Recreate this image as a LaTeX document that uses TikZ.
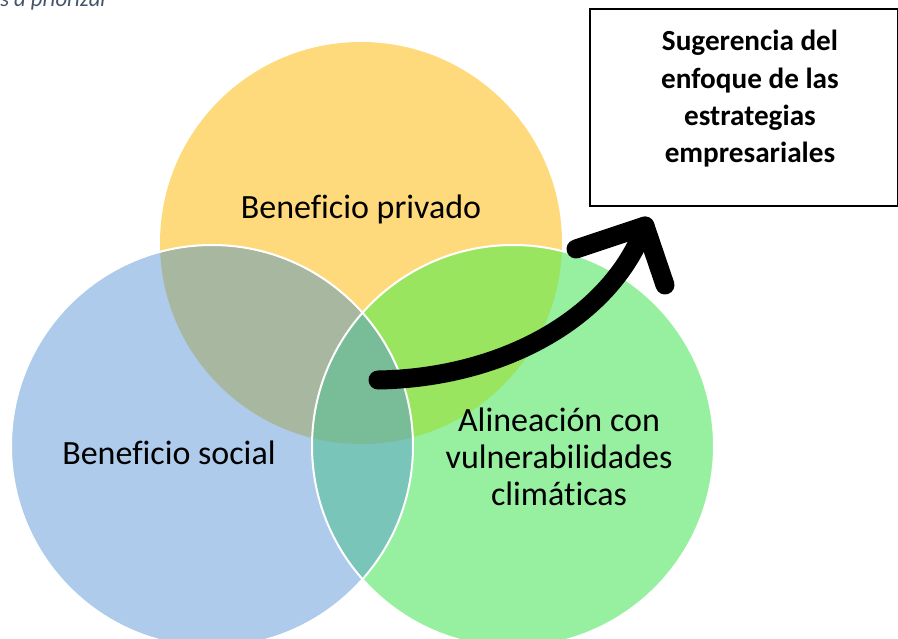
\documentclass[tikz,border=0pt]{standalone}
\usepackage{fontspec}
\setmainfont{Carlito}[Ligatures=CommonOff]
\definecolor{cy}{RGB}{255,218,125}
\definecolor{cb}{RGB}{174,203,235}
\definecolor{cg}{RGB}{150,240,160}
\definecolor{cyb}{RGB}{168,184,160}
\definecolor{cyg}{RGB}{153,229,96}
\definecolor{cbg}{RGB}{121,197,185}
\definecolor{cybg}{RGB}{121,188,152}
\definecolor{captc}{RGB}{68,84,106}
\begin{document}
\begin{tikzpicture}[x=0.75pt,y=-0.75pt,
  lbl/.style={font=\fontsize{25.5}{27.75}\selectfont, align=center, inner sep=0pt},
  boxtxt/.style={font=\bfseries\fontsize{21.9}{28}\selectfont, align=center, inner sep=0pt},
  outline/.style={white, line width=1.5pt},
  bigarrow/.style={line width=14.25pt, line cap=round, line join=round}]
\useasboundingbox (0,0) rectangle (898,638);
\clip (0,0) rectangle (898,638);
\def\R{150.75pt}
\coordinate (cY) at (361,243);
\coordinate (cB) at (212,446);
\coordinate (cG) at (513,446);
% base circles
\fill[cy] (cY) circle[radius=\R];
\fill[cb] (cB) circle[radius=\R];
\fill[cg] (cG) circle[radius=\R];
% overlaps
\begin{scope}
  \clip (cY) circle[radius=\R];
  \fill[cyb] (cB) circle[radius=\R];
  \fill[cyg] (cG) circle[radius=\R];
\end{scope}
\begin{scope}
  \clip (cB) circle[radius=\R];
  \fill[cbg] (cG) circle[radius=\R];
  \clip (cY) circle[radius=\R];
  \fill[cybg] (cG) circle[radius=\R];
\end{scope}
\draw[outline] (cB) circle[radius=\R];
\draw[outline] (cG) circle[radius=\R];
% labels
\node[lbl] (lp) at (361,209) {Beneficio privado};
\node[lbl] (ls) at (169,453) {Beneficio social};
\node[lbl] (lg) at (559,457) {Alineación con\\vulnerabilidades\\climáticas};
% caption
\node[font=\fontsize{17}{19}\selectfont\itshape, text=captc, anchor=base west, inner sep=0pt] (cap) at (0,7) {s a priorizar};
% box
\node[draw, line width=1.5pt, minimum width=231pt, minimum height=147pt, inner sep=0pt, anchor=north west] (box) at (588.5,8.5) {};
\node[boxtxt] (bt) at (750,99) {Sugerencia del\\enfoque de las\\estrategias\\empresariales};
% arrow
\coordinate (as) at (378,380);
\coordinate (at) at (645,226);
\coordinate (bl) at (576,249);
\coordinate (br) at (665,285);
\draw[bigarrow] (as) .. controls (500,378) and (610,320) .. (at);
\draw[bigarrow] (bl) -- (at) -- (br);
\end{tikzpicture}
\end{document}
